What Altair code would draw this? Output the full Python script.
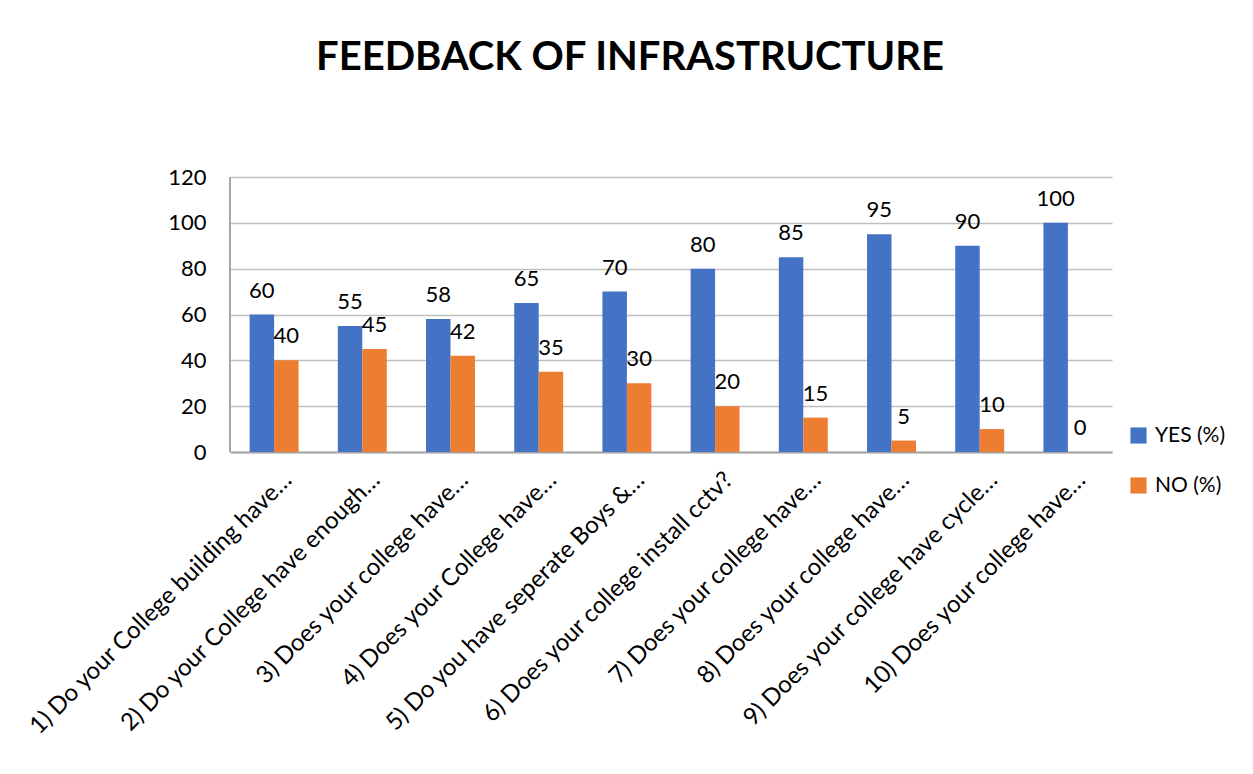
import altair as alt
import pandas as pd

categories = [
    "1) Do your College building have…",
    "2) Do your College have enough…",
    "3) Does your college have…",
    "4) Does your College have…",
    "5) Do you have seperate Boys &…",
    "6) Does your college install cctv?",
    "7) Does your college have…",
    "8) Does your college have…",
    "9) Does your college have cycle…",
    "10) Does your college have…",
]
keys = [f"q{i}" for i in range(1, 11)]
yes_values = [60, 55, 58, 65, 70, 80, 85, 95, 90, 100]
no_values = [40, 45, 42, 35, 30, 20, 15, 5, 10, 0]
series = ["YES (%)", "NO (%)"]
colors = ["#4472C4", "#ED7D31"]
y_ticks = [0, 20, 40, 60, 80, 100, 120]

rows = []
for k, c, yv, nv in zip(keys, categories, yes_values, no_values):
    rows.append({"key": k, "cat": c, "series": series[0], "value": yv})
    rows.append({"key": k, "cat": c, "series": series[1], "value": nv})
df = pd.DataFrame(rows)

label_expr = "{" + ",".join(f"'{k}':'{c}'" for k, c in zip(keys, categories)) + "}[datum.value]"

FONT = "Lato"

x = alt.X(
    "key:N",
    sort=keys,
    title=None,
    scale=alt.Scale(paddingInner=0.445, paddingOuter=0.2225),
    axis=alt.Axis(
        labelExpr=label_expr,
        labelAngle=-45,
        labelAlign="right",
        labelBaseline="middle",
        labelFont=FONT,
        labelFontSize=24,
        labelColor="#000000",
        labelPadding=24,
        labelOffset=14,
        labelLimit=700,
        ticks=False,
        domainColor="#a6a6a6",
        domainWidth=2,
        grid=False,
    ),
)
xo = alt.XOffset("series:N", sort=series, scale=alt.Scale(paddingInner=0, paddingOuter=0))
y = alt.Y(
    "value:Q",
    title=None,
    scale=alt.Scale(domain=[0, 120], nice=False),
    axis=alt.Axis(
        values=y_ticks,
        labelFont=FONT,
        labelFontSize=22,
        labelColor="#000000",
        labelPadding=24,
        ticks=False,
        domain=False,
        gridColor="#bfbfbf",
        gridWidth=1.3,
    ),
)
color = alt.Color(
    "series:N",
    sort=series,
    scale=alt.Scale(domain=series, range=colors),
    legend=alt.Legend(
        title=None,
        orient="none",
        legendX=898,
        legendY=248,
        symbolType="square",
        symbolSize=260,
        symbolStrokeWidth=0,
        labelFont=FONT,
        labelFontSize=21,
        labelColor="#000000",
        rowPadding=28,
        labelOffset=6,
    ),
)

bars = alt.Chart(df).mark_bar().encode(x=x, xOffset=xo, y=y, color=color)
texts = alt.Chart(df).mark_text(
    baseline="alphabetic", dy=-17, font=FONT, fontSize=22, color="#000000"
).encode(x=x, xOffset=xo, y=y, text=alt.Text("value:Q"))

left_line = alt.Chart(df).mark_rule(color="#a6a6a6", strokeWidth=2).encode(
    x=alt.value(0), y=alt.value(0), y2=alt.value(275)
)

chart = (
    alt.layer(bars, texts, left_line)
    .properties(
        width=882,
        height=275,
        title=alt.TitleParams(
            "FEEDBACK OF INFRASTRUCTURE",
            font=FONT,
            fontSize=40,
            fontWeight="bold",
            color="#000000",
            anchor="middle",
            offset=88,
            dx=-41,
        ),
        autosize=alt.AutoSizeParams(type="none"),
        padding={"left": 222, "top": 169, "right": 130, "bottom": 300},
        background="white",
    )
    .configure_view(stroke=None)
)

chart.save("out.html", embed_options={"renderer": "svg", "actions": False})
